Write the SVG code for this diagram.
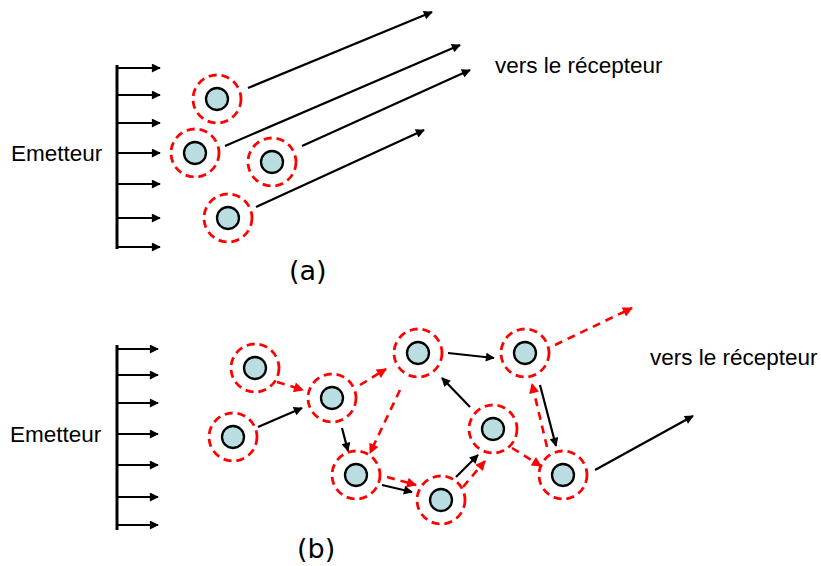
<svg xmlns="http://www.w3.org/2000/svg" width="821" height="566" viewBox="0 0 821 566">
<defs>
<marker id="ah" viewBox="0 0 10 10" refX="9" refY="5" markerWidth="12" markerHeight="9" markerUnits="userSpaceOnUse" orient="auto"><path d="M0,0 L10,5 L0,10 z" fill="#000"/></marker>
<marker id="ar" viewBox="0 0 10 10" refX="9" refY="5" markerWidth="12" markerHeight="10" markerUnits="userSpaceOnUse" orient="auto"><path d="M0,0 L10,5 L0,10 z" fill="#f00"/></marker>
</defs>
<style>
.lbl{font-family:"Liberation Sans",Arial,sans-serif;font-size:22.5px;fill:#000}
.cap{font-family:"DejaVu Sans","Noto Sans",sans-serif;font-size:27px;fill:#000}
.halo{fill:none;stroke:#f00;stroke-width:2.8;stroke-dasharray:8 5}
.core{fill:#b9dde0;stroke:#000;stroke-width:2.3}
.bar{stroke:#000;stroke-width:3;fill:none}
.ray{stroke:#000;stroke-width:2.2;fill:none;marker-end:url(#ah)}
.blk{stroke:#000;stroke-width:2.2;fill:none;marker-end:url(#ah)}
.red{stroke:#f00;stroke-width:2.6;fill:none;stroke-dasharray:8 6;marker-end:url(#ar)}
</style>

<g id="emitter-a">
<line class="bar" x1="117" y1="65" x2="117" y2="249"/>
<g class="ray">
<line x1="117" y1="68" x2="160" y2="68"/>
<line x1="117" y1="95" x2="160" y2="95"/>
<line x1="117" y1="123" x2="160" y2="123"/>
<line x1="117" y1="153" x2="160" y2="153"/>
<line x1="117" y1="184" x2="160" y2="184"/>
<line x1="117" y1="218" x2="160" y2="218"/>
<line x1="117" y1="247" x2="160" y2="247"/>
</g>
<text class="lbl" x="11" y="161">Emetteur</text>
</g>

<g id="a1"><circle class="halo" cx="217" cy="99" r="24"/><circle class="core" cx="217" cy="99" r="11"/></g>
<g id="a2"><circle class="halo" cx="195" cy="153" r="24"/><circle class="core" cx="195" cy="153" r="11"/></g>
<g id="a3"><circle class="halo" cx="272" cy="162" r="24"/><circle class="core" cx="272" cy="162" r="11"/></g>
<g id="a4"><circle class="halo" cx="228" cy="218" r="24"/><circle class="core" cx="228" cy="218" r="11"/></g>

<g id="connectors-a">
<line class="blk" x1="248" y1="88" x2="432" y2="12"/>
<line class="blk" x1="225" y1="146" x2="460" y2="45"/>
<line class="blk" x1="302" y1="146" x2="470" y2="70"/>
<line class="blk" x1="256" y1="207" x2="424" y2="130"/>
</g>
<text class="lbl" x="495" y="73">vers le récepteur</text>
<text class="cap" x="289" y="280">(a)</text>

<g id="emitter-b">
<line class="bar" x1="117" y1="345" x2="117" y2="530"/>
<g class="ray">
<line x1="117" y1="349" x2="158" y2="349"/>
<line x1="117" y1="375" x2="158" y2="375"/>
<line x1="117" y1="403" x2="158" y2="403"/>
<line x1="117" y1="434" x2="158" y2="434"/>
<line x1="117" y1="465" x2="158" y2="465"/>
<line x1="117" y1="497" x2="158" y2="497"/>
<line x1="117" y1="525" x2="158" y2="525"/>
</g>
<text class="lbl" x="10" y="442">Emetteur</text>
</g>

<g id="connectors-b">
<line class="red" x1="277" y1="382" x2="303" y2="390"/>
<line class="blk" x1="258" y1="427" x2="302" y2="408"/>
<line class="red" x1="360" y1="385" x2="386" y2="369"/>
<line class="red" x1="400" y1="390" x2="370" y2="453"/>
<line class="blk" x1="342" y1="428" x2="348" y2="451"/>
<line class="red" x1="387" y1="477" x2="416" y2="485"/>
<line class="blk" x1="382" y1="485" x2="412" y2="492"/>
<line class="blk" x1="456" y1="477" x2="478" y2="455"/>
<line class="red" x1="463" y1="487" x2="485" y2="461"/>
<line class="blk" x1="470" y1="407" x2="442" y2="378"/>
<line class="blk" x1="448" y1="353" x2="494" y2="358"/>
<line class="blk" x1="540" y1="385" x2="556" y2="446"/>
<line class="red" x1="547" y1="447" x2="532" y2="384"/>
<line class="red" x1="512" y1="448" x2="541" y2="466"/>
<line class="red" x1="555" y1="345" x2="632" y2="308"/>
<line class="blk" x1="595" y1="470" x2="693" y2="416"/>
</g>

<g id="b1"><circle class="halo" cx="255" cy="368" r="24"/><circle class="core" cx="255" cy="368" r="11"/></g>
<g id="b2"><circle class="halo" cx="233" cy="437" r="24"/><circle class="core" cx="233" cy="437" r="11"/></g>
<g id="b3"><circle class="halo" cx="332" cy="398" r="24"/><circle class="core" cx="332" cy="398" r="11"/></g>
<g id="b4"><circle class="halo" cx="418" cy="353" r="24"/><circle class="core" cx="418" cy="353" r="11"/></g>
<g id="b5"><circle class="halo" cx="356" cy="475" r="24"/><circle class="core" cx="356" cy="475" r="11"/></g>
<g id="b6"><circle class="halo" cx="441" cy="500" r="24"/><circle class="core" cx="441" cy="500" r="11"/></g>
<g id="b7"><circle class="halo" cx="493" cy="429" r="24"/><circle class="core" cx="493" cy="429" r="11"/></g>
<g id="b8"><circle class="halo" cx="525" cy="353" r="24"/><circle class="core" cx="525" cy="353" r="11"/></g>
<g id="b9"><circle class="halo" cx="563" cy="475" r="24"/><circle class="core" cx="563" cy="475" r="11"/></g>

<text class="lbl" x="650" y="365">vers le récepteur</text>
<text class="cap" x="297" y="558">(b)</text>
</svg>
